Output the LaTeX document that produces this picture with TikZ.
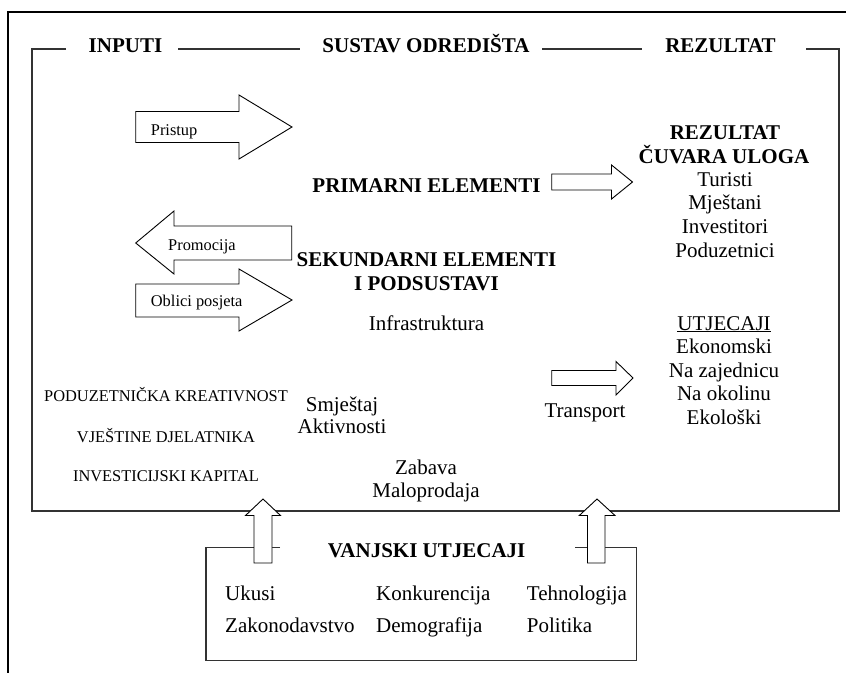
\documentclass[tikz,border=0pt]{standalone}
\usepackage{fontspec}
\setmainfont{Liberation Serif}
\newcommand\fbig{\fontsize{21bp}{24bp}\selectfont}
\newcommand\fsmall{\fontsize{16.4bp}{19bp}\selectfont}
\begin{document}
\begin{tikzpicture}[x=1bp,y=-1bp,
  txt/.style={inner sep=0pt, font=\fbig, anchor=base},
  btxt/.style={inner sep=0pt, font=\fbig\bfseries, anchor=base},
  stxt/.style={inner sep=0pt, font=\fsmall, anchor=base},
  outerline/.style={draw=black, line width=2bp},
  inframe/.style={draw=black!80, line width=1.3bp},
  blockarrow/.style={draw=black, fill=white, line width=0.9bp, line join=miter}]
\useasboundingbox (0,0) rectangle (846,673);
% outer open frame
\draw[outerline] (8,673) -- (8,12) -- (846,12);
% inner frame
\draw[inframe] (66,49) -- (32,49) -- (32,511) -- (839,511) -- (839,49) -- (806,49);
\draw[inframe] (178,49) -- (300,49);
\draw[inframe] (542,49) -- (642,49);
% header labels
\node[btxt] (hin) at (125.5,53) {INPUTI};
\node[btxt] (hsus) at (426,53) {SUSTAV ODREDIŠTA};
\node[btxt] (hrez) at (720.5,53) {REZULTAT};
% input arrows
\draw[blockarrow] (135.7,111.5) -- (239,111.5) -- (239,95) -- (292,127) -- (239,159) -- (239,142.5) -- (135.7,142.5) -- cycle;
\node[stxt, anchor=base west] (pristup) at (150.7,136) {Pristup};
\draw[blockarrow] (291.7,226) -- (174,226) -- (174,211) -- (135.7,243) -- (174,274) -- (174,260) -- (291.7,260) -- cycle;
\node[stxt, anchor=base west] (promocija) at (168,250) {Promocija};
\draw[blockarrow] (135.7,284) -- (239,284) -- (239,269) -- (292,300) -- (239,331) -- (239,317) -- (135.7,317) -- cycle;
\node[stxt, anchor=base west] (oblici) at (150.7,306.5) {Oblici posjeta};
% central column
\node[btxt] (prim) at (426.5,192) {PRIMARNI ELEMENTI};
\node[btxt] (sek1) at (426.5,266) {SEKUNDARNI ELEMENTI};
\node[btxt] (sek2) at (426.5,290) {I PODSUSTAVI};
\node[txt] (infra) at (426.5,330) {Infrastruktura};
\node[txt] (smj) at (342,411) {Smještaj};
\node[txt] (akt) at (342,433) {Aktivnosti};
\node[txt] (zab) at (426,474) {Zabava};
\node[txt] (malo) at (426,497) {Maloprodaja};
% left column
\node[stxt] (pod) at (166,401) {PODUZETNIČKA KREATIVNOST};
\node[stxt] (vje) at (166,442) {VJEŠTINE DJELATNIKA};
\node[stxt] (inv) at (166,481.5) {INVESTICIJSKI KAPITAL};
% arrows to results
\draw[blockarrow] (551.7,174) -- (611.5,174) -- (611.5,165) -- (632.5,182) -- (611.5,199) -- (611.5,190) -- (551.7,190) -- cycle;
\draw[blockarrow] (551.7,370.5) -- (616,370.5) -- (616,361.5) -- (633,378) -- (616,395) -- (616,385.5) -- (551.7,385.5) -- cycle;
\node[txt] (transp) at (585,417) {Transport};
% results column
\node[btxt] (rez) at (725,140) {REZULTAT};
\node[btxt] (cuv) at (724,163.5) {ČUVARA ULOGA};
\node[txt] (tur) at (725,186) {Turisti};
\node[txt] (mje) at (725,209) {Mještani};
\node[txt] (investit) at (725,233) {Investitori};
\node[txt] (poduz) at (725,257) {Poduzetnici};
\node[txt] (utj) at (724,330) {\underline{UTJECAJI}};
\node[txt] (eko) at (724,353.5) {Ekonomski};
\node[txt] (zaj) at (724,377) {Na zajednicu};
\node[txt] (oko) at (724,400.5) {Na okolinu};
\node[txt] (ekol) at (724,424) {Ekološki};
% external influences box
\draw[inframe] (280,547.7) -- (206,547.7) -- (206,660.7) -- (636.7,660.7) -- (636.7,547.7) -- (575,547.7);
\node[btxt] (vanj) at (426.7,557) {VANJSKI UTJECAJI};
\draw[blockarrow] (254,563) -- (254,515.5) -- (245.5,515.5) -- (263,499) -- (280.5,515.5) -- (272,515.5) -- (272,563) -- cycle;
\draw[blockarrow] (587.5,563) -- (587.5,515.5) -- (579.3,515.5) -- (597,499) -- (615,515.5) -- (605,515.5) -- (605,563) -- cycle;
\node[txt, anchor=base west] (uk) at (225,600.5) {Ukusi};
\node[txt, anchor=base west] (kon) at (376,600.5) {Konkurencija};
\node[txt, anchor=base west] (teh) at (526.7,600.5) {Tehnologija};
\node[txt, anchor=base west] (zak) at (225,632.5) {Zakonodavstvo};
\node[txt, anchor=base west] (dem) at (376,632.5) {Demografija};
\node[txt, anchor=base west] (pol) at (526.7,632.5) {Politika};
\end{tikzpicture}
\end{document}
